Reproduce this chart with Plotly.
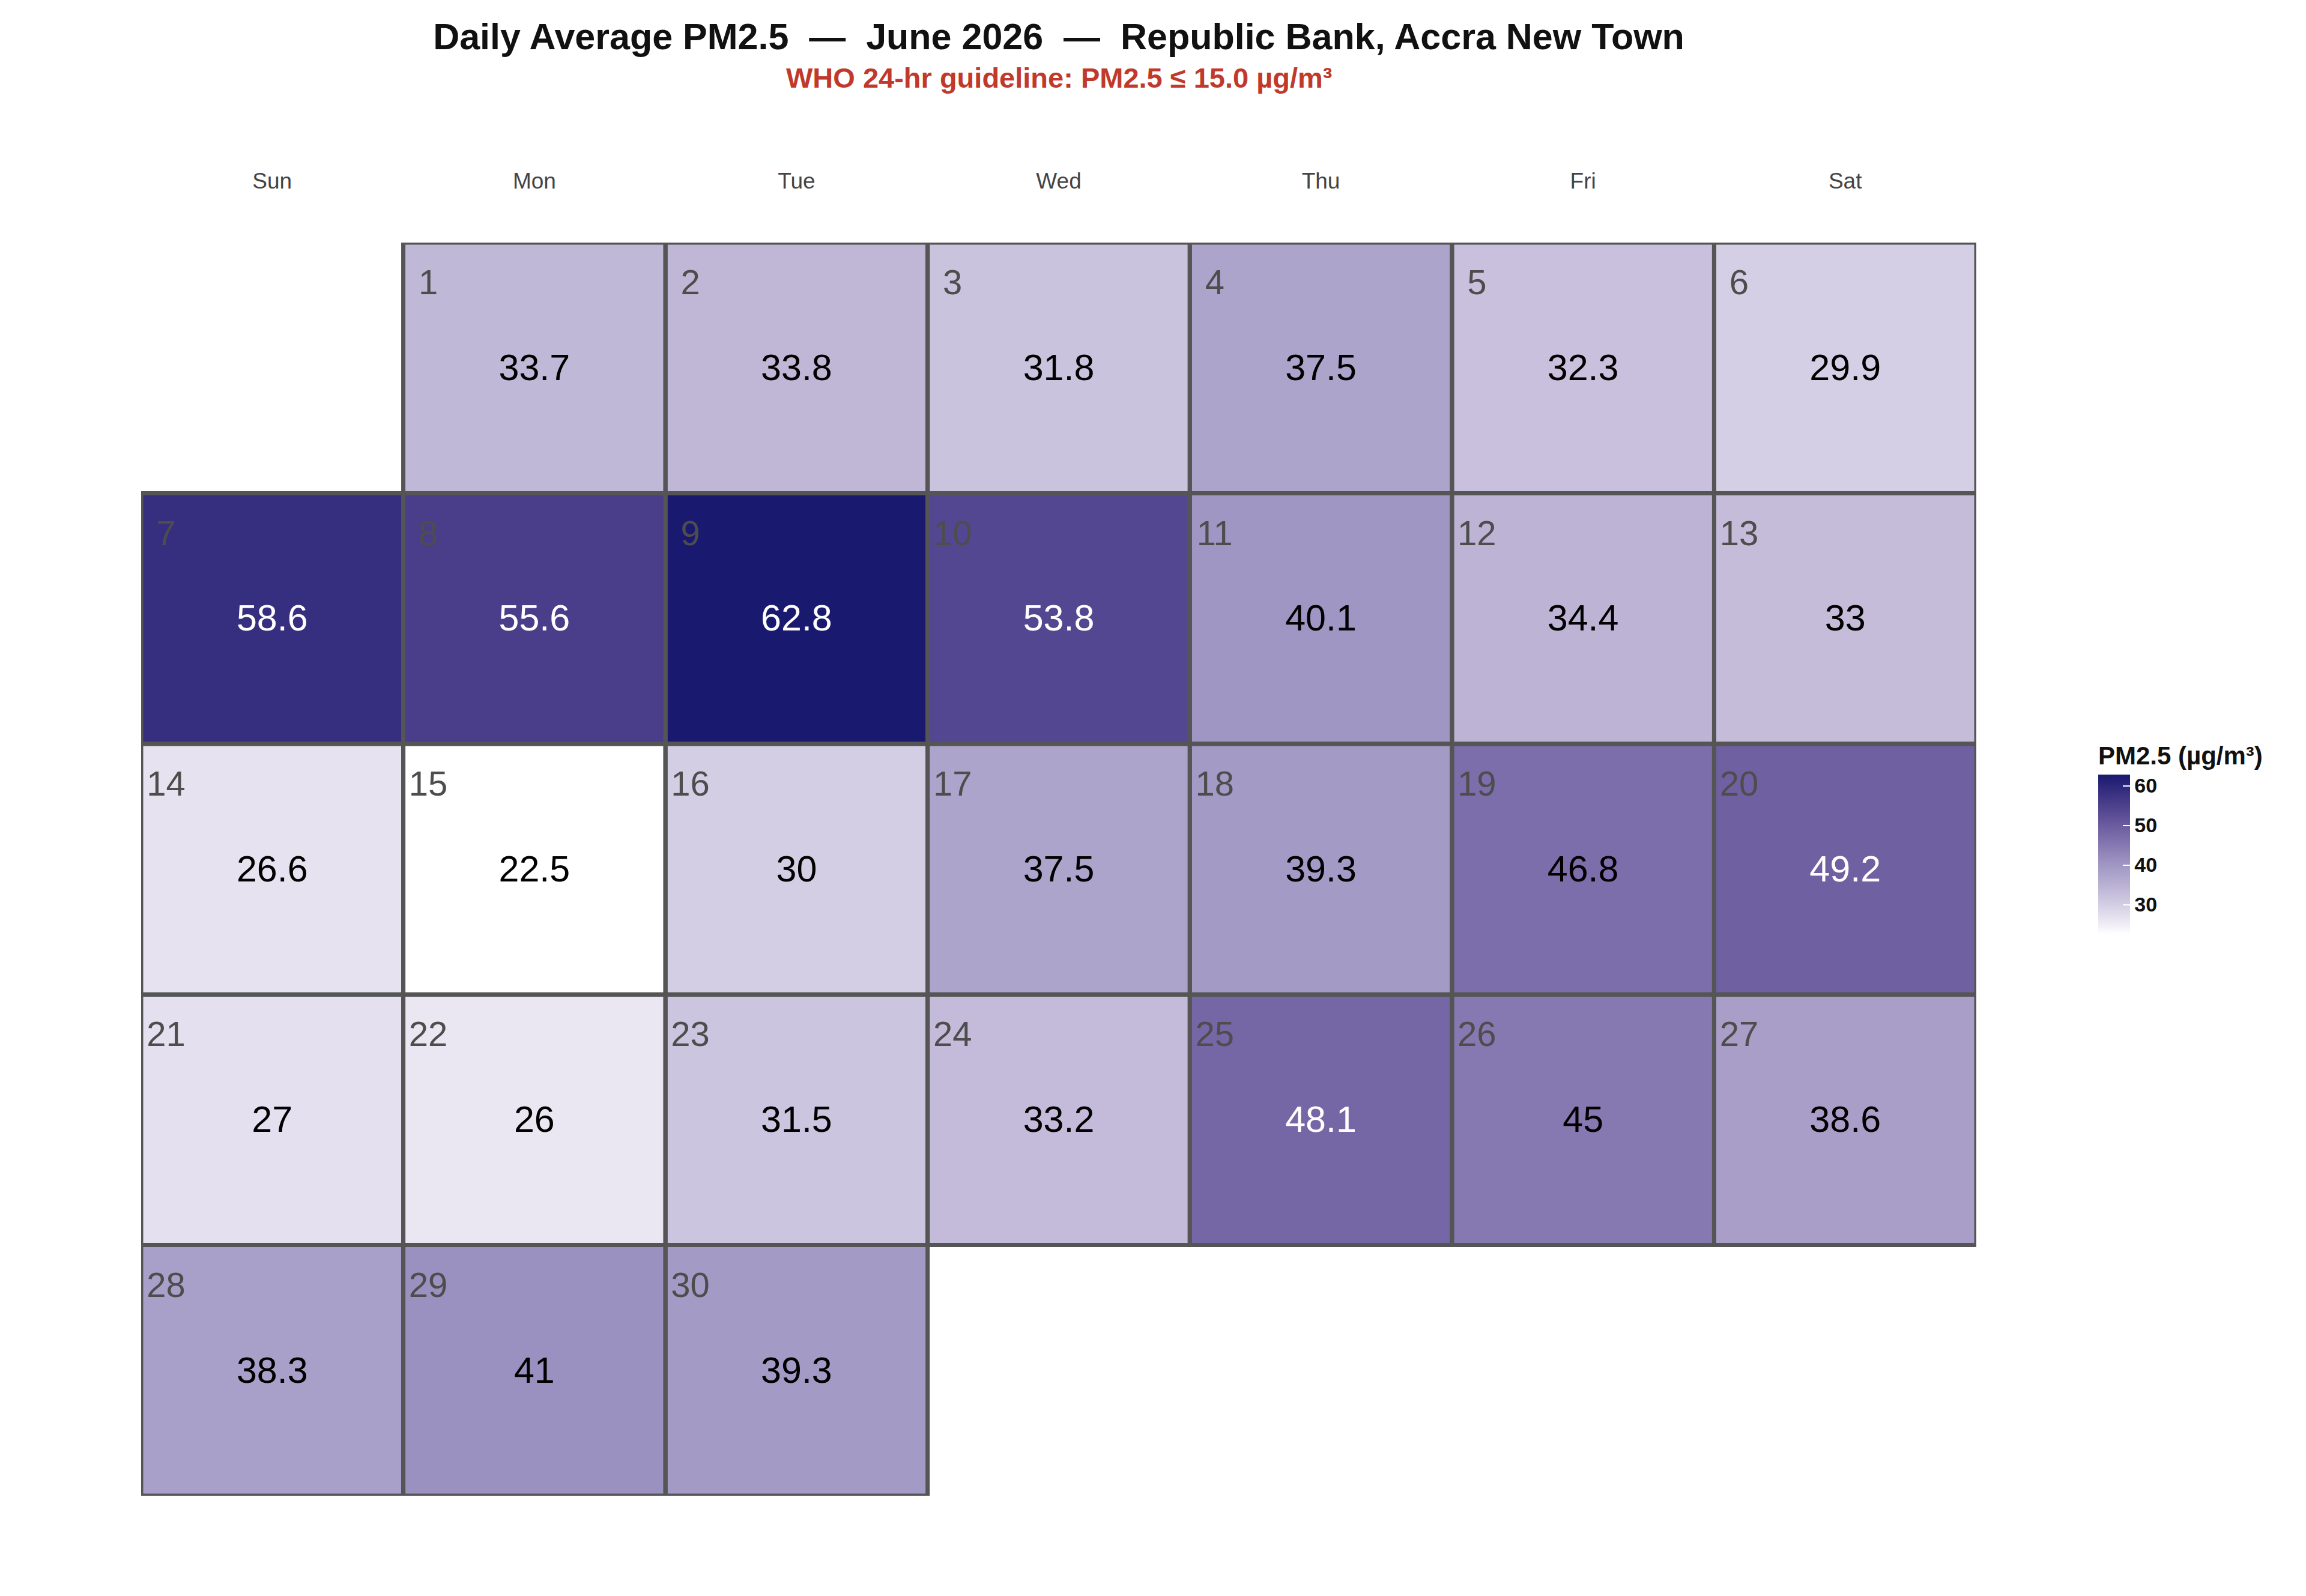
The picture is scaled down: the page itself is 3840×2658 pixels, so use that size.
import datetime
import plotly.graph_objects as go

# Daily average PM2.5 (µg/m³), June 2026, day 1..30
days = list(range(1, 31))
pm25 = [33.7, 33.8, 31.8, 37.5, 32.3, 29.9,
        58.6, 55.6, 62.8, 53.8, 40.1, 34.4, 33.0,
        26.6, 22.5, 30.0, 37.5, 39.3, 46.8, 49.2,
        27.0, 26.0, 31.5, 33.2, 48.1, 45.0, 38.6,
        38.3, 41.0, 39.3]
weekday_names = ["Sun", "Mon", "Tue", "Wed", "Thu", "Fri", "Sat"]
year, month = 2026, 6

# place each day in a Sunday-first calendar grid
first_col = (datetime.date(year, month, 1).weekday() + 1) % 7
cols = [(first_col + d - 1) % 7 for d in days]
rows = [(first_col + d - 1) // 7 for d in days]
n_rows = max(rows) + 1

z = [[None] * 7 for _ in range(n_rows)]
for c, r, v in zip(cols, rows, pm25):
    z[r][c] = v

colorscale = [
    [0.0, "#ffffff"],
    [0.102, "#e6e2f0"],
    [0.278, "#c0b8d7"],
    [0.437, "#a096c4"],
    [0.635, "#7566a6"],
    [0.821, "#4a3d8a"],
    [1.0, "#191970"],
]

fig = go.Figure()

fig.add_trace(go.Heatmap(
    z=z, x=list(range(7)), y=list(range(n_rows)),
    colorscale=colorscale, hoverinfo="skip",
    colorbar=dict(
        title=dict(text="<b>PM2.5 (µg/m³)</b>", side="top",
                   font=dict(size=42, color="#111111", family="Liberation Sans, Arial")),
        x=1.0664, xanchor="left", y=0.448, yanchor="bottom",
        len=318, lenmode="pixels", thickness=53,
        tickvals=[30, 40, 50, 60],
        ticks="inside", tickcolor="white", ticklen=12, tickwidth=2,
        tickfont=dict(size=34, color="#111111", weight="bold",
                      family="Liberation Sans, Arial"),
        outlinewidth=0, xpad=0, ypad=0,
    ),
))

# cell borders
bx, by = [], []
for c, r in zip(cols, rows):
    bx += [c - 0.5, c + 0.5, c + 0.5, c - 0.5, c - 0.5, None]
    by += [r - 0.5, r - 0.5, r + 0.5, r + 0.5, r - 0.5, None]
fig.add_trace(go.Scatter(x=bx, y=by, mode="lines",
                         line=dict(color="#555555", width=7),
                         hoverinfo="skip", showlegend=False))

# day numbers
fig.add_trace(go.Scatter(
    x=[c - 0.405 for c in cols], y=[r - 0.328 for r in rows],
    mode="text", text=[str(d) for d in days], textposition="middle center",
    textfont=dict(size=58, color="#4d4d4d", family="Liberation Sans, Arial"),
    hoverinfo="skip", showlegend=False))

# values
fig.add_trace(go.Scatter(
    x=cols, y=[r + 0.012 for r in rows], mode="text",
    text=[f"{v:g}" for v in pm25], textposition="middle center",
    textfont=dict(size=61, family="Liberation Sans, Arial",
                  color=["white" if v > 48 else "black" for v in pm25]),
    hoverinfo="skip", showlegend=False))

fig.update_layout(
    width=3840, height=2658,
    margin=dict(l=227, r=557, t=396, b=175),
    plot_bgcolor="white", paper_bgcolor="white",
    font=dict(family="Liberation Sans, Arial"),
    title=dict(
        text="<b>Daily Average PM2.5 \u00a0—\u00a0 June 2026 \u00a0—\u00a0 Republic Bank, Accra New Town</b>",
        font=dict(size=61, color="#111111"),
        x=0.5, xref="paper", xanchor="center",
        y=1 - 53 / 2658, yref="container", yanchor="middle"),
    xaxis=dict(range=[-0.5, 6.5], side="top", tickvals=list(range(7)),
               ticktext=weekday_names, ticks="", showgrid=False,
               zeroline=False, showline=False, ticklabelstandoff=82,
               tickfont=dict(size=37, color="#444444")),
    yaxis=dict(range=[n_rows - 0.5, -0.5], visible=False,
               showgrid=False, zeroline=False),
    annotations=[dict(
        text="<b>WHO 24-hr guideline: PM2.5 ≤ 15.0 µg/m³</b>",
        x=0.5, xref="paper", y=1.1316, yref="paper",
        yanchor="middle", showarrow=False,
        font=dict(size=47, color="#c0392b"))],
)

fig.write_html("out.html")
